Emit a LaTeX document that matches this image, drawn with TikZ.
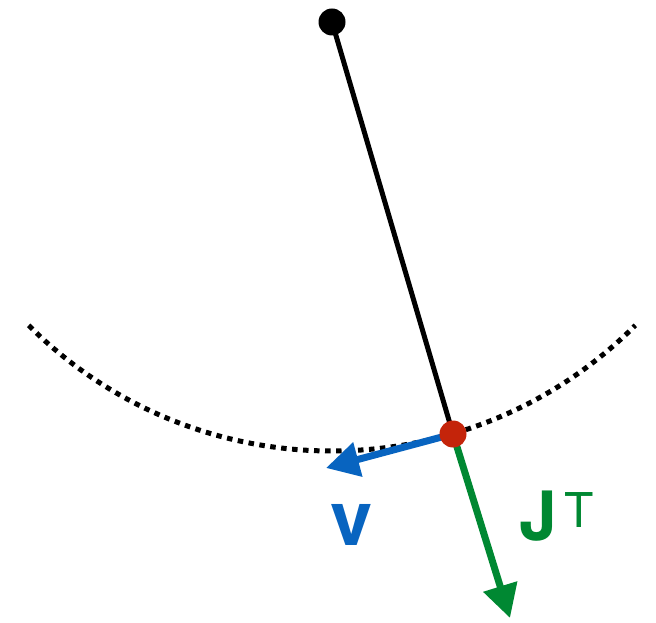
\documentclass[tikz,border=0pt]{standalone}
\usepackage{fontspec}
\setmainfont{TeX Gyre Heros}
\usetikzlibrary{arrows.meta,positioning,calc}
\definecolor{velblue}{RGB}{8,100,192}
\definecolor{jacgreen}{RGB}{0,136,50}
\definecolor{bobred}{RGB}{196,36,10}

\begin{document}
\begin{tikzpicture}[
  x=1pt, y=1pt,
  joint/.style={circle, fill, inner sep=0pt, minimum size=27pt},
  rod/.style={line width=5pt},
  swing/.style={line width=5pt, dash pattern=on 5.5pt off 5.5pt},
  vec/.style={line width=7pt, -{Triangle[length=33pt,width=34pt]}},
  lbl/.style={inner sep=0pt},
]
  \useasboundingbox (0,0) rectangle (656,622);
  \coordinate (p) at (332,600);
  \coordinate (b) at (453,188);
  \coordinate (vtip) at (326,154);
  \coordinate (jtip) at (510,4);

  % Swing path of the bob
  \draw[swing] ($(p)+(225:429pt)$) arc[start angle=225, end angle=315, radius=429pt];

  % Rod and vectors
  \draw[rod] (p) -- (b);
  \draw[vec, velblue] (b) -- (vtip);
  \draw[vec, jacgreen] (b) -- (jtip);

  \node[joint, black] (pivot) at (p) {};
  \node[joint, bobred] (bob) at (b) {};

  % Labels
  \node[lbl, anchor=base, text=velblue, font=\bfseries\fontsize{76}{76}\selectfont] (vlabel) at (352,77) {v};
  \node[lbl, anchor=base west, text=jacgreen, font=\bfseries\fontsize{68}{68}\selectfont] (jlabel) at (519,82) {J};
  \node[lbl, anchor=north west, text=jacgreen, font=\fontsize{48}{48}\selectfont] (tlabel) at (564,130) {T};
\end{tikzpicture}
\end{document}
